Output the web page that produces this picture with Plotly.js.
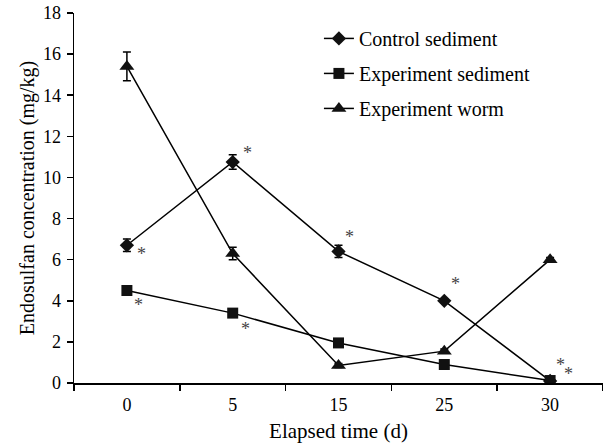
<!DOCTYPE html>
<html><head><meta charset="utf-8">
<script src="https://cdn.plot.ly/plotly-3.0.1.min.js"></script>
<style>body{margin:0;background:#fff}#c{width:603px;height:444px}</style>
</head><body><div id="c"></div>
<script>
const days = ["0","5","15","25","30"];
const controlSediment = [6.7, 10.75, 6.4, 4.0, 0.1];
const controlErr = [0.3, 0.35, 0.3, 0.1, 0.05];
const expSediment = [4.5, 3.4, 1.95, 0.9, 0.12];
const expSedErr = [0.1, 0.1, 0.1, 0.1, 0.05];
const expWorm = [15.4, 6.3, 0.85, 1.55, 6.0];
const expWormErr = [0.7, 0.3, 0.1, 0.1, 0.1];
// significance asterisks: [category index offset, y]
const starX = [0.14, 0.11, 1.14, 1.12, 2.1, 3.11, 4.1, 4.17];
const starY = [6.3, 3.8, 11.2, 2.65, 7.1, 4.8, 0.9, 0.45];

const FAM = "Liberation Serif";
function tr(name, y, err, sym, size, g) {
  return {x: days, y: y, name: name, type: "scatter", mode: "lines+markers", legendgroup: g,
    line: {color: "#000", width: 1.5},
    marker: {symbol: sym, size: size, color: "#111"},
    error_y: {type: "data", array: err, visible: true, color: "#000", thickness: 1.5, width: 4}};
}
const data = [
  tr("Control sediment", controlSediment, controlErr, "diamond", 11, "a"),
  tr("Experiment sediment", expSediment, expSedErr, "square", 11, "b"),
  tr("Experiment worm", expWorm, expWormErr, "triangle-up", 13, "c")
];
const annotations = starX.map((x, i) => ({x: x, y: starY[i], xref: "x", yref: "y", text: "*",
  showarrow: false, font: {family: FAM, size: 18, color: "#444"}}));
const layout = {
  width: 603, height: 444, margin: {l: 74, r: 0, t: 13, b: 61},
  paper_bgcolor: "#fff", plot_bgcolor: "#fff", font: {family: FAM, size: 18, color: "#000"},
  showlegend: true,
  legend: {x: 0.463, y: 0.984, xanchor: "left", yanchor: "top", bgcolor: "rgba(0,0,0,0)",
    font: {family: FAM, size: 20, color: "#000"}, traceorder: "grouped", tracegroupgap: 6, itemwidth: 30},
  xaxis: {type: "category", range: [-0.5, 4.5], tickson: "boundaries", ticks: "outside", ticklen: 6,
    tickwidth: 1.5, tickcolor: "#000", showline: true, linecolor: "#000", linewidth: 1.5,
    showgrid: false, zeroline: false, tickfont: {family: FAM, size: 18, color: "#000"}, ticklabelstandoff: 5,
    title: {text: "Elapsed time (d)", font: {family: FAM, size: 21, color: "#000"}, standoff: 9}},
  yaxis: {range: [0, 18], dtick: 2, ticks: "outside", ticklen: 6, tickwidth: 1.5, tickcolor: "#000",
    showline: true, linecolor: "#000", linewidth: 1.5, showgrid: false, zeroline: false,
    tickfont: {family: FAM, size: 18, color: "#000"}, ticklabelstandoff: 2,
    title: {text: "Endosulfan concentration (mg/kg)", font: {family: FAM, size: 20, color: "#000"}, standoff: 3}},
  annotations: annotations
};
Plotly.newPlot("c", data, layout, {displayModeBar: false, staticPlot: true});
</script></body></html>
